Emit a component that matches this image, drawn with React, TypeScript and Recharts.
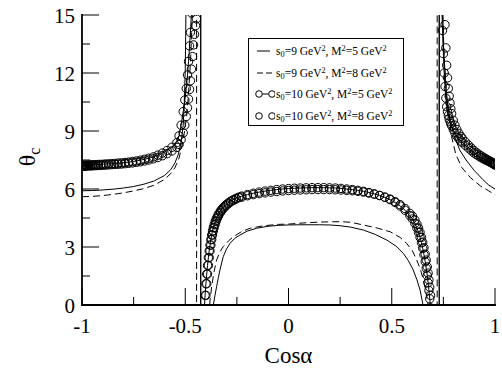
import React from 'react';
import { LineChart, Line, XAxis, YAxis, Legend } from 'recharts';

const FONT = 'Liberation Serif';
const textStyle: React.CSSProperties = { fontFamily: "'Liberation Serif', serif" };

// ---- axes ----
const xTicks = [-1, -0.75, -0.5, -0.25, 0, 0.25, 0.5, 0.75, 1];
const xMajor = [-1, -0.5, 0, 0.5, 1];
const yTicks = [0, 1.5, 3, 4.5, 6, 7.5, 9, 10.5, 12, 13.5, 15];
const yMajor = [0, 3, 6, 9, 12, 15];

// ---- series: s0=9 GeV^2, M^2=5 GeV^2 (solid) ----
const solidX = [-1, -0.95, -0.9, -0.85, -0.8, -0.75, -0.7, -0.65, -0.6, -0.57, -0.55, -0.535, -0.52, -0.51, -0.505, -0.5, -0.496,
  -0.4255, -0.4245,
  -0.39, -0.375, -0.364, -0.356, -0.348, -0.34, -0.332, -0.316, -0.3, -0.283, -0.26, -0.235, -0.2, -0.154, -0.1, -0.05, 0, 0.05, 0.1, 0.15, 0.2, 0.25, 0.3, 0.362, 0.42, 0.476, 0.52, 0.556, 0.58, 0.604, 0.622, 0.637, 0.65, 0.665, 0.7,
  0.7295, 0.7305,
  0.74, 0.75, 0.758, 0.766, 0.78, 0.8, 0.83, 0.86, 0.9, 0.94, 0.97, 1];
const solidY = [5.91, 5.92, 5.95, 5.99, 6.05, 6.13, 6.25, 6.42, 6.7, 7.0, 7.35, 7.75, 8.4, 9.3, 10.3, 12.2, 15.6,
  400, -400,
  -6, -2, 0, 0.5, 0.95, 1.4, 1.81, 2.5, 2.9, 3.19, 3.45, 3.62, 3.82, 3.97, 4.07, 4.12, 4.14, 4.15, 4.15, 4.15, 4.14, 4.1, 4.03, 3.88, 3.65, 3.36, 3.05, 2.67, 2.3, 1.81, 1.3, 0.78, 0.09, -1, -8,
  -400, 400,
  20, 13.5, 12, 10.8, 9.7, 8.8, 8.0, 7.5, 6.95, 6.5, 6.2, 6.0];

// ---- series: s0=9 GeV^2, M^2=8 GeV^2 (dashed) ----
const dashX = [-1, -0.95, -0.9, -0.85, -0.8, -0.75, -0.7, -0.65, -0.6, -0.57, -0.55, -0.53, -0.51, -0.495, -0.485, -0.475, -0.468, -0.462,
  -0.4455, -0.4445,
  -0.41, -0.39, -0.38, -0.372, -0.36, -0.348, -0.332, -0.316, -0.29, -0.267, -0.23, -0.186, -0.12, -0.05, 0.007, 0.08, 0.15, 0.249, 0.3, 0.362, 0.43, 0.492, 0.54, 0.572, 0.6, 0.621, 0.64, 0.653, 0.664, 0.672, 0.685, 0.705,
  0.7195, 0.7205,
  0.735, 0.745, 0.755, 0.77, 0.79, 0.81, 0.84, 0.88, 0.93, 0.97, 1];
const dashY = [5.6, 5.62, 5.66, 5.72, 5.8, 5.9, 6.02, 6.2, 6.5, 6.8, 7.1, 7.6, 8.5, 9.6, 10.8, 12.5, 14.3, 16.5,
  400, -400,
  -5, -1.5, 0.26, 0.95, 1.75, 2.33, 2.75, 3.02, 3.32, 3.53, 3.78, 3.97, 4.1, 4.17, 4.19, 4.25, 4.29, 4.31, 4.28, 4.14, 3.98, 3.79, 3.5, 3.19, 2.8, 2.33, 1.8, 1.29, 0.75, 0.26, -0.7, -5,
  -400, 400,
  22, 15.5, 12.5, 10.3, 8.7, 7.8, 7.1, 6.6, 6.15, 5.9, 5.7];

// ---- series with circles: s0=10 GeV^2 (A: M^2=5, with line; B: M^2=8, markers) ----
const circX = [
  -1, -0.9996, -0.9984, -0.9963, -0.9935, -0.9898, -0.9854, -0.9801, -0.974, -0.9671, -0.9595, -0.9511, -0.9419, -0.9319, -0.9211, -0.9096, -0.8974, -0.8844, -0.8707, -0.8563, -0.8413, -0.8255, -0.809, -0.792, -0.7744, -0.7557, -0.7367, -0.7171, -0.6969, -0.6764, -0.6549, -0.6327, -0.6107, -0.5878, -0.5644, -0.5406,
  -0.53, -0.52, -0.51, -0.502, -0.495, -0.489, -0.484, -0.479, -0.475, -0.47, -0.465, -0.46, -0.455, -0.45, -0.446,
  -0.4255, -0.4245,
  -0.412, -0.408, -0.404, -0.4, -0.396, -0.392, -0.388, -0.384, -0.38, -0.376, -0.372, -0.368, -0.364, -0.36, -0.355, -0.35, -0.344, -0.338, -0.33, -0.322, -0.313, -0.303, -0.292, -0.28, -0.267, -0.254, -0.24,
  -0.2265, -0.1986, -0.1705, -0.1423, -0.114, -0.0856, -0.0571, -0.0286, 0, 0.0286, 0.0571, 0.0856, 0.114, 0.1423, 0.1705, 0.1986, 0.2265, 0.2542, 0.2817, 0.309, 0.3361, 0.3628, 0.3893, 0.4154, 0.4412, 0.4667, 0.4917, 0.5164, 0.5406, 0.5644, 0.5878,
  0.6, 0.612, 0.622, 0.63, 0.637, 0.644, 0.65, 0.656, 0.662, 0.667, 0.672, 0.676, 0.68, 0.684, 0.688, 0.695, 0.705,
  0.7295, 0.7305,
  0.742, 0.746, 0.75, 0.754, 0.758, 0.762, 0.766, 0.77, 0.774, 0.778, 0.782, 0.786, 0.79, 0.798, 0.806, 0.815, 0.825, 0.835,
  0.8413, 0.8563, 0.8707, 0.8844, 0.8974, 0.9096, 0.9211, 0.9319, 0.9419, 0.9511, 0.9595, 0.9671, 0.974, 0.9801, 0.9854, 0.9898, 0.9935, 0.9963, 0.9984, 0.9996, 1,
];
const circA = [
  7.22, 7.22, 7.22, 7.22, 7.22, 7.22, 7.23, 7.23, 7.23, 7.24, 7.24, 7.25, 7.25, 7.26, 7.27, 7.27, 7.28, 7.29, 7.3, 7.31, 7.32, 7.34, 7.35, 7.37, 7.39, 7.42, 7.45, 7.49, 7.54, 7.59, 7.66, 7.75, 7.86, 7.99, 8.16, 8.4,
  8.75, 9.3, 10.0, 10.6, 11.2, 11.9, 12.6, 13.4, 14.1, 15.1, 16.3, 17.8, 19.6, 22, 24.5,
  400, -400,
  -2, -0.3, 0.5, 1.1, 1.6, 2.05, 2.45, 2.8, 3.1, 3.38, 3.62, 3.83, 4.0, 4.15, 4.32, 4.46, 4.6, 4.72, 4.86, 4.97, 5.08, 5.18, 5.28, 5.37, 5.45, 5.52, 5.58,
  5.63, 5.71, 5.78, 5.84, 5.89, 5.93, 5.97, 6.0, 6.02, 6.04, 6.05, 6.06, 6.07, 6.07, 6.07, 6.06, 6.05, 6.03, 6.0, 5.97, 5.93, 5.88, 5.82, 5.75, 5.67, 5.57, 5.45, 5.3, 5.12, 4.9, 4.62,
  4.45, 4.22, 3.98, 3.75, 3.5, 3.22, 2.93, 2.6, 2.24, 1.9, 1.52, 1.15, 0.75, 0.32, -0.15, -1.2, -3.5,
  -400, 400,
  15.6, 14.2, 13.0, 12.0, 11.3, 10.7, 10.26, 10.0, 9.8, 9.63, 9.5, 9.38, 9.27, 9.07, 8.9, 8.74, 8.6, 8.48,
  8.4, 8.26, 8.12, 7.99, 7.87, 7.78, 7.7, 7.63, 7.57, 7.52, 7.48, 7.44, 7.4, 7.37, 7.34, 7.31, 7.29, 7.27, 7.26, 7.25, 7.25,
];
const circB = [
  7.18, 7.18, 7.18, 7.18, 7.18, 7.18, 7.19, 7.19, 7.19, 7.2, 7.2, 7.2, 7.21, 7.21, 7.22, 7.22, 7.23, 7.24, 7.25, 7.26, 7.27, 7.28, 7.29, 7.31, 7.33, 7.35, 7.38, 7.41, 7.45, 7.5, 7.56, 7.63, 7.72, 7.83, 7.97, 8.15,
  8.3, 8.55, 8.9, 9.3, 9.75, 10.2, 10.65, 11.15, 11.6, 12.2, 12.85, 13.45, 14.0, 14.45, 14.8,
  null, null,
  null, null, null, 0.5, 1.1, 1.6, 2.05, 2.45, 2.8, 3.1, 3.38, 3.62, 3.83, 4.0, 4.18, 4.34, 4.5, 4.63, 4.78, 4.9, 5.02, 5.13, 5.23, 5.33, 5.41, 5.48, 5.55,
  5.58, 5.65, 5.71, 5.76, 5.8, 5.84, 5.87, 5.9, 5.92, 5.94, 5.95, 5.96, 5.97, 5.97, 5.97, 5.97, 5.96, 5.95, 5.93, 5.91, 5.88, 5.84, 5.79, 5.73, 5.66, 5.58, 5.48, 5.35, 5.19, 4.99, 4.74,
  4.6, 4.4, 4.18, 3.98, 3.76, 3.5, 3.25, 2.96, 2.63, 2.32, 1.97, 1.65, 1.3, 0.92, 0.5, null, null,
  null, null,
  null, null, null, null, 14.5, 13.3, 12.4, 11.75, 11.2, 10.8, 10.45, 10.15, 9.9, 9.55, 9.3, 9.08, 8.88, 8.72,
  8.62, 8.44, 8.28, 8.13, 8.0, 7.89, 7.8, 7.72, 7.65, 7.59, 7.54, 7.49, 7.45, 7.41, 7.38, 7.35, 7.33, 7.31, 7.3, 7.29, 7.29,
];

const legendRows = [
  { s0: '9', m2: '5', kind: 'solid' },
  { s0: '9', m2: '8', kind: 'dashed' },
  { s0: '10', m2: '5', kind: 'circleLine' },
  { s0: '10', m2: '8', kind: 'circle' },
];

const zip = (xs: number[], ys: (number | null)[]) => xs.map((x, i) => ({ x, y: ys[i] }));
const solidData = zip(solidX, solidY);
const dashData = zip(dashX, dashY);
const circAData = zip(circX, circA);
const circBData = zip(circX, circB);

const MAJOR_LEN = 17;
const MINOR_LEN = 8;
const TICK_FONT = 21;

function BottomTick(props: any) {
  const { x, y, payload } = props;
  const v = payload.value;
  const major = xMajor.includes(v);
  return (
    <g>
      <line x1={x} y1={y} x2={x} y2={y - (major ? MAJOR_LEN : MINOR_LEN)} stroke="#000" strokeWidth={1} />
      {major && (
        <text x={x} y={y + 28} textAnchor="middle" fontSize={TICK_FONT} fontFamily={FONT} style={textStyle} fill="#000">
          {String(v)}
        </text>
      )}
    </g>
  );
}
function TopTick(props: any) {
  const { x, y, payload } = props;
  const major = xMajor.includes(payload.value);
  return <line x1={x} y1={y} x2={x} y2={y + (major ? MAJOR_LEN : MINOR_LEN)} stroke="#000" strokeWidth={1} />;
}
function LeftTick(props: any) {
  const { x, y, payload } = props;
  const v = payload.value;
  const major = yMajor.includes(v);
  return (
    <g>
      <line x1={x} y1={y} x2={x + (major ? MAJOR_LEN : MINOR_LEN)} y2={y} stroke="#000" strokeWidth={1} />
      {major && (
        <text x={x - 7} y={y + 8} textAnchor="end" fontSize={TICK_FONT} fontFamily={FONT} style={textStyle} fill="#000">
          {String(v)}
        </text>
      )}
    </g>
  );
}
function RightTick(props: any) {
  const { x, y, payload } = props;
  const major = yMajor.includes(payload.value);
  return <line x1={x} y1={y} x2={x - (major ? MAJOR_LEN : MINOR_LEN)} y2={y} stroke="#000" strokeWidth={1} />;
}

function Symbol({ kind }: { kind: string }) {
  if (kind === 'solid') return <line x1={2} y1={8} x2={15} y2={8} stroke="#000" strokeWidth={1} />;
  if (kind === 'dashed') return <line x1={2} y1={8} x2={18} y2={8} stroke="#000" strokeWidth={1} strokeDasharray="6 3" />;
  return (
    <g>
      {kind === 'circleLine' && <line x1={4} y1={8} x2={17} y2={8} stroke="#000" strokeWidth={1} />}
      <circle cx={4} cy={8} r={3.3} fill="#fff" stroke="#000" strokeWidth={1} />
      <circle cx={17} cy={8} r={3.3} fill="#fff" stroke="#000" strokeWidth={1} />
    </g>
  );
}

const subStyle: React.CSSProperties = { fontSize: '0.72em', verticalAlign: '-0.3em', lineHeight: 0 };
const supStyle: React.CSSProperties = { fontSize: '0.72em', verticalAlign: '0.5em', lineHeight: 0 };

function LegendBox() {
  return (
    <div
      style={{
        position: 'relative', width: 156, height: 88, border: '1px solid #000', boxSizing: 'border-box',
        background: '#fff', fontFamily: "'Liberation Serif', serif", fontSize: 11.5, color: '#000',
      }}
    >
      {legendRows.map((r, i) => (
        <div
          key={i}
          style={{ position: 'absolute', left: 6, top: 4 + i * 21.7, height: 16, display: 'flex', alignItems: 'center', whiteSpace: 'nowrap' }}
        >
          <svg width={20} height={16} style={{ display: 'block' }}>
            <Symbol kind={r.kind} />
          </svg>
          <span style={{ marginLeft: 1, lineHeight: '16px' }}>
            s<span style={subStyle}>0</span>={r.s0} GeV<span style={supStyle}>2</span>, M<span style={supStyle}>2</span>={r.m2} GeV
            <span style={supStyle}>2</span>
          </span>
        </div>
      ))}
    </div>
  );
}

const axisLineStyle = { stroke: '#000', strokeWidth: 1.8, strokeLinecap: 'square' as const };

export default function App() {
  return (
    <div style={{ position: 'absolute', left: 0, top: 0, width: 502, height: 371, background: '#fff', fontFamily: "'Liberation Serif', serif" }}>
      <LineChart width={502} height={371} margin={{ top: 15, right: 7, bottom: 0, left: 0 }}>
        <XAxis
          xAxisId="top"
          orientation="top"
          type="number"
          dataKey="x"
          domain={[-1, 1]}
          allowDataOverflow
          ticks={xTicks}
          interval={0}
          height={0}
          tickSize={0}
          tickMargin={0}
          tickLine={false}
          tick={<TopTick />}
          axisLine={axisLineStyle}
        />
        <XAxis
          type="number"
          dataKey="x"
          domain={[-1, 1]}
          allowDataOverflow
          ticks={xTicks}
          interval={0}
          height={66}
          tickSize={0}
          tickMargin={0}
          tickLine={false}
          tick={<BottomTick />}
          axisLine={axisLineStyle}
          label={{
            content: (p: any) => {
              const vb = p.viewBox || { x: 82, width: 413 };
              return (
                <text x={vb.x + vb.width / 2} y={363} textAnchor="middle" fontSize={23} fontFamily={FONT} style={textStyle} fill="#000">
                  Cosα
                </text>
              );
            },
          }}
        />
        <YAxis
          type="number"
          domain={[0, 15]}
          allowDataOverflow
          ticks={yTicks}
          interval={0}
          width={82}
          tickSize={0}
          tickMargin={0}
          tickLine={false}
          tick={<LeftTick />}
          axisLine={axisLineStyle}
          label={{
            content: () => (
              <text transform="translate(35,157) rotate(-90)" x={0} y={0} textAnchor="middle" fontSize={24} fontFamily={FONT} style={textStyle} fill="#000">
                θ<tspan fontSize={16} dy={5}>c</tspan>
              </text>
            ),
          }}
        />
        <YAxis
          yAxisId="right"
          orientation="right"
          type="number"
          domain={[0, 15]}
          allowDataOverflow
          ticks={yTicks}
          interval={0}
          width={0}
          tickSize={0}
          tickMargin={0}
          tickLine={false}
          tick={<RightTick />}
          axisLine={axisLineStyle}
        />
        <Line data={solidData} dataKey="y" type="linear" stroke="#000" strokeWidth={1} dot={false} activeDot={false} isAnimationActive={false} />
        <Line data={dashData} dataKey="y" type="linear" stroke="#000" strokeWidth={1} strokeDasharray="7 4" dot={false} activeDot={false} isAnimationActive={false} />
        <Line
          data={circAData}
          dataKey="y"
          type="linear"
          stroke="#000"
          strokeWidth={1}
          dot={{ r: 4.2, stroke: '#000', strokeWidth: 1, fill: 'none' }}
          activeDot={false}
          isAnimationActive={false}
        />
        <Line
          data={circBData}
          dataKey="y"
          type="linear"
          stroke="none"
          dot={{ r: 4.2, stroke: '#000', strokeWidth: 1, fill: 'none' }}
          activeDot={false}
          isAnimationActive={false}
        />
        <Legend
          layout="vertical"
          align="center"
          verticalAlign="middle"
          wrapperStyle={{ left: 248, top: 38, width: 156, height: 88 }}
          content={() => <LegendBox />}
        />
      </LineChart>
    </div>
  );
}
